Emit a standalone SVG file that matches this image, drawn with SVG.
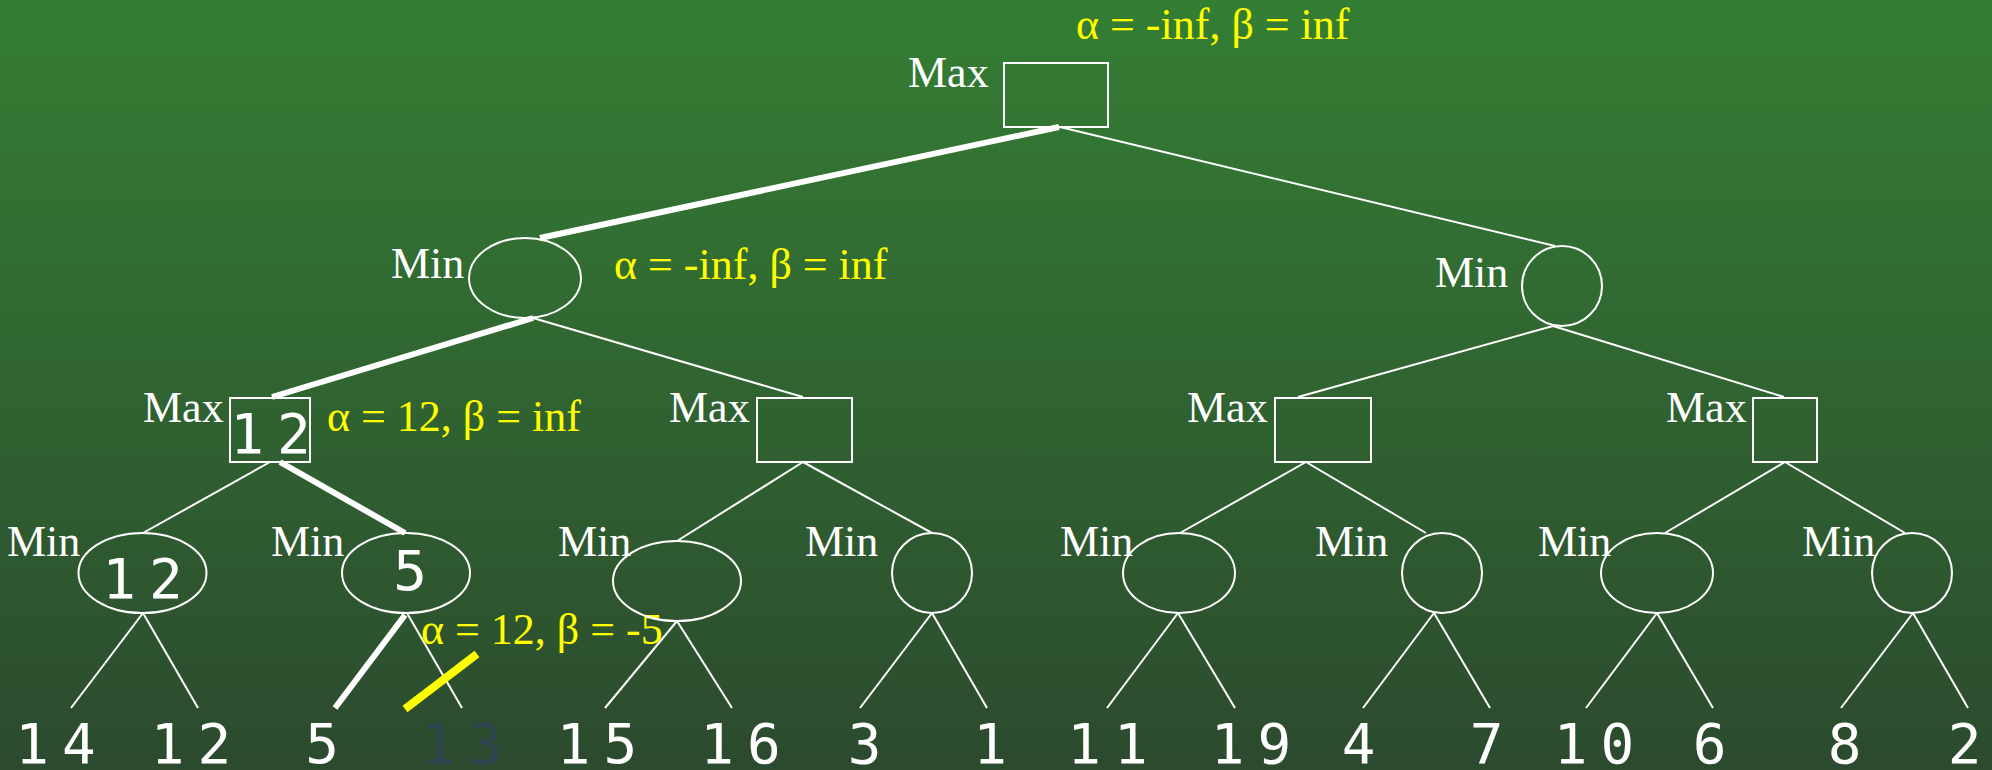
<svg xmlns="http://www.w3.org/2000/svg" width="1992" height="770" viewBox="0 0 1992 770">
<defs>
<linearGradient id="bg" x1="0" y1="0" x2="0" y2="1">
<stop offset="0" stop-color="#347e34"/>
<stop offset="1" stop-color="#2c4a2e"/>
</linearGradient>
<style>
.node{fill:none;stroke:#ffffff;stroke-width:2}
.lbl{font-family:"Liberation Serif","Times New Roman",serif;font-size:44px;fill:#ffffff}
.ab{font-family:"Liberation Serif","Times New Roman",serif;font-size:44px;fill:#ffff00}
.num{font-family:"DejaVu Sans Mono",monospace;font-size:56px;fill:#ffffff;letter-spacing:13px;text-anchor:middle}
.cut{fill:#2e4451}
.thin{stroke:#ffffff;stroke-width:2;fill:none}
.thick{stroke:#ffffff;stroke-width:6;fill:none}
.slash{stroke:#ffff00;stroke-width:8}
</style>
</defs>
<rect width="1992" height="770" fill="url(#bg)"/>

<g id="connectors">
<line class="thin" x1="1060" y1="127" x2="1555" y2="246"/>
<line class="thin" x1="533" y1="318" x2="803" y2="397"/>
<line class="thin" x1="1553" y1="326" x2="1298" y2="397"/>
<line class="thin" x1="1553" y1="326" x2="1784" y2="397"/>
<line class="thin" x1="270" y1="462" x2="143" y2="533"/>
<line class="thin" x1="803" y1="462" x2="677" y2="541"/>
<line class="thin" x1="803" y1="462" x2="932" y2="533"/>
<line class="thin" x1="1306" y1="462" x2="1180" y2="533"/>
<line class="thin" x1="1306" y1="462" x2="1426" y2="533"/>
<line class="thin" x1="1785" y1="462" x2="1665" y2="533"/>
<line class="thin" x1="1785" y1="462" x2="1905" y2="533"/>
<line class="thin" x1="143" y1="613" x2="71" y2="708"/>
<line class="thin" x1="143" y1="613" x2="198" y2="708"/>
<line class="thin" x1="407" y1="613" x2="462" y2="708"/>
<line class="thin" x1="677" y1="621" x2="605" y2="708"/>
<line class="thin" x1="677" y1="621" x2="732" y2="708"/>
<line class="thin" x1="932" y1="613" x2="860" y2="708"/>
<line class="thin" x1="932" y1="613" x2="987" y2="708"/>
<line class="thin" x1="1178" y1="613" x2="1107" y2="708"/>
<line class="thin" x1="1178" y1="613" x2="1235" y2="708"/>
<line class="thin" x1="1434" y1="613" x2="1363" y2="708"/>
<line class="thin" x1="1434" y1="613" x2="1490" y2="708"/>
<line class="thin" x1="1657" y1="613" x2="1586" y2="708"/>
<line class="thin" x1="1657" y1="613" x2="1713" y2="708"/>
<line class="thin" x1="1913" y1="613" x2="1841" y2="708"/>
<line class="thin" x1="1913" y1="613" x2="1968" y2="708"/>
<line class="thick" x1="1059" y1="127" x2="540" y2="238"/>
<line class="thick" x1="533" y1="318" x2="272" y2="397"/>
<line class="thick" x1="280" y1="462" x2="405" y2="533"/>
<line class="thick" stroke-width="7" x1="405" y1="615" x2="335" y2="708"/>
<line class="slash" x1="405" y1="709" x2="477" y2="654"/>
</g>

<g id="root">
<rect class="node" x="1004" y="63" width="104" height="64"/>
<text class="lbl" x="908" y="87">Max</text>
<text class="ab" x="1076" y="39">α = -inf, β = inf</text>
</g>
<g id="minL">
<ellipse class="node" cx="525" cy="278" rx="56" ry="40"/>
<text class="lbl" x="391" y="278">Min</text>
<text class="ab" x="614" y="279">α = -inf, β = inf</text>
</g>
<g id="minR">
<circle class="node" cx="1562" cy="286" r="40"/>
<text class="lbl" x="1435" y="287">Min</text>
</g>
<g id="max1">
<rect class="node" x="230" y="398" width="80" height="64"/>
<text class="lbl" x="143" y="422">Max</text>
<text class="num" x="277" y="453">12</text>
<text class="ab" x="327" y="431">α = 12, β = inf</text>
</g>
<g id="max2">
<rect class="node" x="757" y="398" width="95" height="64"/>
<text class="lbl" x="669" y="422">Max</text>
</g>
<g id="max3">
<rect class="node" x="1275" y="398" width="96" height="64"/>
<text class="lbl" x="1187" y="422">Max</text>
</g>
<g id="max4">
<rect class="node" x="1753" y="398" width="64" height="64"/>
<text class="lbl" x="1666" y="422">Max</text>
</g>
<g id="min1">
<ellipse class="node" cx="142.5" cy="573" rx="64" ry="40"/>
<text class="lbl" x="7" y="556">Min</text>
<text class="num" x="149" y="598">12</text>
</g>
<g id="min2">
<ellipse class="node" cx="406" cy="573" rx="64" ry="40"/>
<text class="lbl" x="271" y="556">Min</text>
<text class="num" x="416.5" y="590">5</text>
<text class="ab" x="421" y="644">α = 12, β = -5</text>
</g>
<g id="min3">
<ellipse class="node" cx="677" cy="581" rx="64" ry="40"/>
<text class="lbl" x="558" y="556">Min</text>
</g>
<g id="min4">
<circle class="node" cx="932" cy="573" r="40"/>
<text class="lbl" x="805" y="556">Min</text>
</g>
<g id="min5">
<ellipse class="node" cx="1179" cy="573" rx="56" ry="40"/>
<text class="lbl" x="1060" y="556">Min</text>
</g>
<g id="min6">
<circle class="node" cx="1442" cy="573" r="40"/>
<text class="lbl" x="1315" y="556">Min</text>
</g>
<g id="min7">
<ellipse class="node" cx="1657" cy="573" rx="56" ry="40"/>
<text class="lbl" x="1538" y="556">Min</text>
</g>
<g id="min8">
<circle class="node" cx="1912" cy="573" r="40"/>
<text class="lbl" x="1802" y="556">Min</text>
</g>
<g id="leaves">
<text class="num" x="62" y="763">14</text>
<text class="num" x="197.5" y="763">12</text>
<text class="num" x="328.5" y="763">5</text>
<text class="num cut" x="468.5" y="763">13</text>
<text class="num" x="603.5" y="763">15</text>
<text class="num" x="747" y="763">16</text>
<text class="num" x="871" y="763">3</text>
<text class="num" x="996.5" y="763">1</text>
<text class="num" x="1114" y="763">11</text>
<text class="num" x="1257.5" y="763">19</text>
<text class="num" x="1365" y="763">4</text>
<text class="num" x="1493" y="763">7</text>
<text class="num" x="1600.5" y="763">10</text>
<text class="num" x="1716" y="763">6</text>
<text class="num" x="1851" y="763">8</text>
<text class="num" x="1971" y="763">2</text>
</g>
</svg>
